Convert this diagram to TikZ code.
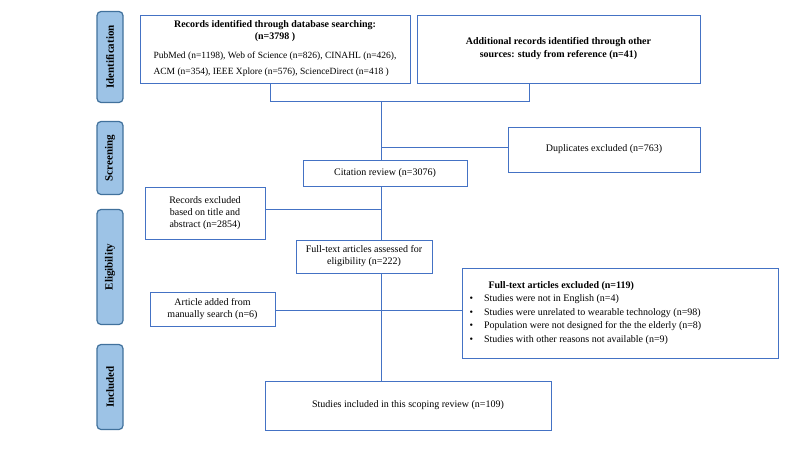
\documentclass[tikz,border=0pt]{standalone}
\usepackage{fontspec}
\setmainfont{Liberation Serif}
\definecolor{lnc}{HTML}{4472C4}
\definecolor{phf}{HTML}{9DC3E6}
\definecolor{phd}{HTML}{41719C}
\begin{document}
\begin{tikzpicture}[x=1pt,y=-1pt,
  bx/.style={draw=lnc, line width=1pt, fill=white, align=center, font=\fontsize{10}{12}\selectfont, inner sep=2pt},
  phase/.style={draw=phd, line width=1.2pt, fill=phf, rounded corners=4pt, font=\bfseries\fontsize{11}{13}\selectfont, rotate=90},
  ln/.style={draw=lnc, line width=1pt}]
\useasboundingbox (0,0) rectangle (800,450);
\node[phase, minimum width=91pt, minimum height=26pt] (p1) at (110,57) {Identification};
\node[phase, minimum width=73pt, minimum height=26pt] (p2) at (110,158) {Screening};
\node[phase, minimum width=115pt, minimum height=26pt] (p3) at (110,267) {Eligibility};
\node[phase, minimum width=85pt, minimum height=26pt] (p4) at (110,387) {Included};

\node[bx, minimum width=270pt, minimum height=68pt] (rec) at (275,49) {};
\node[font=\bfseries\fontsize{10}{12}\selectfont, align=center] (rect) at (275,31) {Records identified through database searching:\\(n=3798 )};
\node[font=\fontsize{9.5}{16}\selectfont, align=left] (recs) at (275,64) {PubMed (n=1198), Web of Science (n=826), CINAHL (n=426),\\ACM (n=354), IEEE Xplore (n=576), ScienceDirect (n=418 )};
\node[bx, minimum width=283pt, minimum height=68pt, font=\bfseries\fontsize{10}{13}\selectfont] (add) at (558.5,49) {Additional records identified through other\\sources: study from reference (n=41)};
\node[bx, minimum width=192pt, minimum height=45pt] (dup) at (604,149.5) {Duplicates excluded (n=763)};
\node[bx, minimum width=164pt, minimum height=26pt] (cit) at (385,173) {Citation review (n=3076)};
\node[bx, minimum width=120pt, minimum height=52pt] (rex) at (205,213) {Records excluded\\based on title and\\abstract (n=2854)};
\node[bx, minimum width=136pt, minimum height=33pt] (ft) at (364,256.5) {Full-text articles assessed for\\eligibility (n=222)};
\node[bx, minimum width=316pt, minimum height=90pt] (fex) at (620,313) {};
\node[anchor=west, align=left, font=\fontsize{10}{13.5}\selectfont] (fext) at (466,313) {\hspace*{1.9em}\textbf{Full-text articles excluded (n=119)}\\
\textbullet\hspace{1.1em}Studies were not in English (n=4)\\
\textbullet\hspace{1.1em}Studies were unrelated to wearable technology (n=98)\\
\textbullet\hspace{1.1em}Population were not designed for the the elderly (n=8)\\
\textbullet\hspace{1.1em}Studies with other reasons not available (n=9)};
\node[bx, minimum width=125pt, minimum height=34pt] (art) at (212.5,309) {Article added from\\manually search (n=6)};
\node[bx, minimum width=286pt, minimum height=49pt] (inc) at (408,405.5) {Studies included in this scoping review (n=109)};

\coordinate (j1) at (270,101);
\coordinate (j2) at (529,101);
\coordinate (jc) at (381,101);
\draw[ln] (rec.south -| j1) -- (j1) -- (j2) -- (add.south -| j2);
\draw[ln] (jc) -- (jc |- cit.north);
\draw[ln] (381,147) -- (dup.west |- 381,147);
\draw[ln] (381,186) -- (381,240);
\draw[ln] (rex.east |- 381,209) -- (381,209);
\draw[ln] (381,273) -- (381,381);
\draw[ln] (art.east |- 381,310) -- (fex.west |- 381,310);
\end{tikzpicture}
\end{document}
